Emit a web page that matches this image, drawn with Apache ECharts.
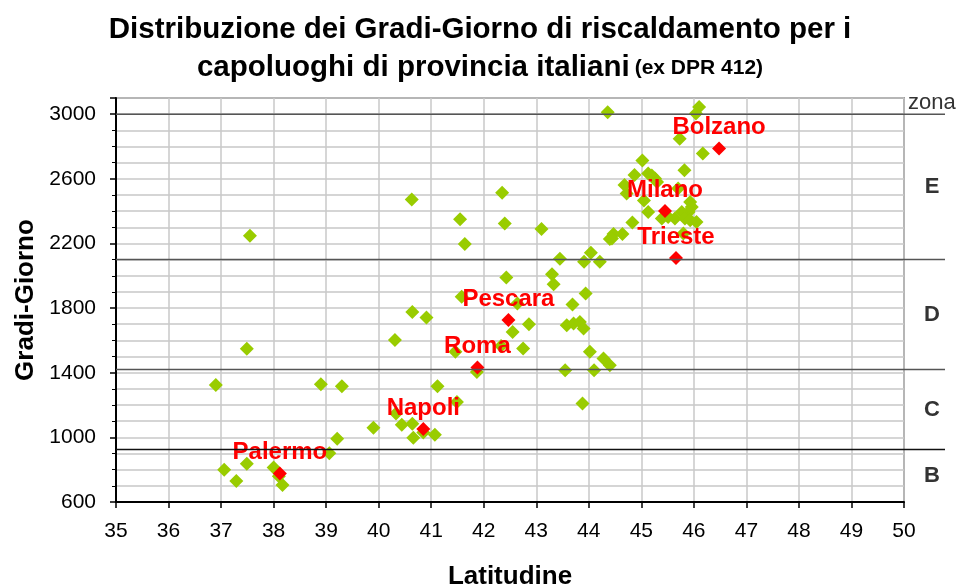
<!DOCTYPE html>
<html>
<head>
    <meta charset="utf-8">
    <script src="https://cdn.jsdelivr.net/npm/echarts@6/dist/echarts.min.js"></script>
    <style type="text/css">
        body { margin: 0; }
        #main { width: 960px; height: 585px; }
    </style>
</head>
<body>
    <div id="main"></div>
    <script>
        // capoluoghi: [latitudine, gradi-giorno]
        const capoluoghi = [
            [36.90,1324],[37.06,800],[37.29,730],[37.49,837],[37.49,1548],[37.55,2247],[38.00,814],[38.10,760],[38.17,705],
            [38.90,1328],[39.30,1317],[39.06,901],[39.21,992],[39.90,1060],
            [40.31,1602],[40.33,1147],[40.44,1078],[40.64,1084],[40.66,997],[40.85,1030],[41.07,1016],[41.12,1316],[41.49,1219],
            [40.64,1775],[40.91,1742],[40.63,2472],
            [41.55,2349],[41.64,2196],[41.58,1870],[41.46,1530],[41.87,1405],
            [42.35,2513],[42.40,2324],[42.43,1990],[42.64,1828],[42.86,1700],[42.55,1652],[42.75,1550],[42.33,1565],
            [43.10,2289],[43.45,2105],[43.30,2010],[43.33,1948],[43.69,1822],[43.94,1890],[43.91,2086],[44.04,2142],[44.21,2086],
            [43.58,1693],[43.71,1704],[43.83,1714],[43.90,1673],
            [44.02,1529],[44.28,1488],[44.40,1446],[43.55,1415],[44.10,1415],[43.88,1210],
            [44.36,3012],[44.40,2227],[44.47,2258],[44.64,2258],[44.44,2230],[44.83,2330],[44.68,2561],[44.87,2623],[44.72,2509],
            [45.02,2713],[45.13,2633],[45.20,2620],[45.26,2602],[45.30,2580],[45.70,2540],[45.05,2465],[45.13,2395],
            [45.93,2457],[45.96,2426],[45.90,2395],
            [45.39,2354],[45.51,2364],[45.64,2354],[45.77,2395],[45.83,2354],[45.93,2344],[46.05,2333],[45.80,2261],
            [45.82,2653],[45.73,2848],[46.17,2757],[46.10,3045],[46.04,3004]
        ];

        // città evidenziate
        const cityNames = ['Palermo','Napoli','Roma','Pescara','Milano','Trieste','Bolzano'];
        const cityLat = [38.12, 40.85, 41.88, 42.47, 45.45, 45.66, 46.48];
        const cityGG = [777, 1051, 1432, 1726, 2400, 2110, 2788];

        // zone climatiche (limiti come disegnati)
        const zoneNames = ['E','D','C','B'];
        const zoneBounds = [3000, 2100, 1420, 925, 600];

        const font = 'Liberation Sans, Arial, sans-serif';
        const chart = echarts.init(document.getElementById('main'));

        chart.setOption({
            animation: false,
            textStyle: { fontFamily: font },
            title: {
                text: '{a|Distribuzione dei Gradi-Giorno di riscaldamento per i}\n{a|capoluoghi di provincia italiani} {b|(ex DPR 412)}',
                left: 'center',
                top: 6,
                textStyle: {
                    rich: {
                        a: { fontSize: 29.5, fontWeight: 'bold', color: '#000', lineHeight: 38, fontFamily: font },
                        b: { fontSize: 21, fontWeight: 'bold', color: '#000', lineHeight: 38, fontFamily: font }
                    }
                }
            },
            grid: {
                left: 116, right: 56, top: 98, bottom: 83,
                outerBoundsMode: 'none',
                show: true, borderColor: '#555', borderWidth: 1.5
            },
            xAxis: {
                type: 'value', min: 35, max: 50, interval: 1,
                name: 'Latitudine', nameLocation: 'middle', nameGap: 62,
                nameTextStyle: { fontSize: 26, fontWeight: 'bold', color: '#000' },
                axisLine: { onZero: false, lineStyle: { color: '#000', width: 2 } },
                axisTick: { length: 6, lineStyle: { color: '#000', width: 1.5 } },
                axisLabel: { fontSize: 21, color: '#000', margin: 19 },
                splitLine: { lineStyle: { color: '#c8c8c8', width: 1.5 } }
            },
            yAxis: {
                type: 'value', min: 600, max: 3100, interval: 400,
                name: 'Gradi-Giorno', nameLocation: 'middle', nameGap: 70,
                nameTextStyle: { fontSize: 26, fontWeight: 'bold', color: '#000' },
                axisLine: { show: true, onZero: false, lineStyle: { color: '#000', width: 2 } },
                axisTick: { show: true, length: 6, lineStyle: { color: '#000', width: 1.5 } },
                minorTick: { show: true, splitNumber: 4, length: 4, lineStyle: { color: '#000' } },
                axisLabel: { fontSize: 21, color: '#000', margin: 20, showMaxLabel: false, formatter: v => String(v) },
                splitLine: { lineStyle: { color: '#c8c8c8', width: 1.5 } },
                minorSplitLine: { show: true, lineStyle: { color: '#c8c8c8', width: 1.5 } }
            },
            series: [
                {
                    type: 'scatter',
                    symbol: 'diamond',
                    symbolSize: 14,
                    itemStyle: { color: '#99cc00', opacity: 1 },
                    data: capoluoghi,
                    z: 2
                },
                {
                    type: 'scatter',
                    symbol: 'diamond',
                    symbolSize: 14,
                    itemStyle: { color: '#ff0000', opacity: 1 },
                    data: cityNames.map((n, i) => ({ name: n, value: [cityLat[i], cityGG[i]] })),
                    label: {
                        show: true, position: 'top', distance: 2,
                        formatter: '{b}', color: '#ff0000',
                        fontSize: 24, fontWeight: 'bold', fontFamily: font
                    },
                    z: 3
                }
            ]
        });

        // linee di zona e etichette fuori dall'area del grafico
        const xStart = chart.convertToPixel({ xAxisIndex: 0 }, 35);
        const xEnd = 945;
        const xText = 932;
        const graphics = [];
        zoneBounds.slice(0, 4).forEach((v, i) => {
            const y = chart.convertToPixel({ yAxisIndex: 0 }, v);
            graphics.push({
                type: 'line', z: 10,
                shape: { x1: xStart, y1: y, x2: xEnd, y2: y },
                style: { stroke: i === 3 ? '#111' : '#555', lineWidth: 1.5 }
            });
        });
        zoneNames.forEach((z, i) => {
            const y = chart.convertToPixel({ yAxisIndex: 0 }, (zoneBounds[i] + zoneBounds[i + 1]) / 2);
            graphics.push({
                type: 'text', z: 10,
                style: { text: z, x: xText, y: y, textAlign: 'center', textVerticalAlign: 'middle',
                    font: 'bold 22px ' + font, fill: '#333' }
            });
        });
        graphics.push({
            type: 'text', z: 10,
            style: { text: 'zona', x: 908, y: 103, textAlign: 'left', textVerticalAlign: 'middle',
                font: '22px ' + font, fill: '#333' }
        });
        chart.setOption({ graphic: graphics });
    </script>
</body>
</html>
